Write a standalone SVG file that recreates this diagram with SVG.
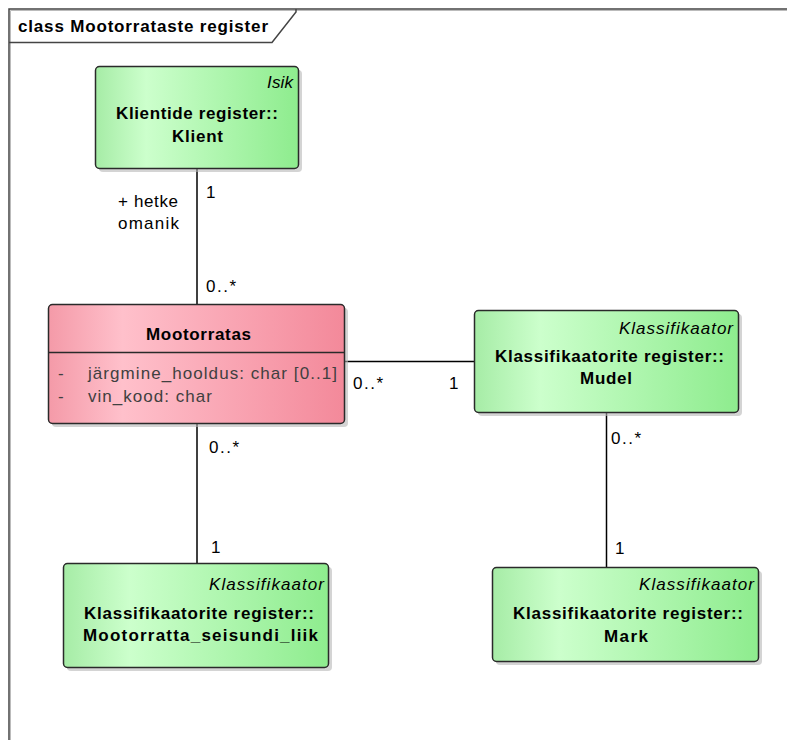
<svg xmlns="http://www.w3.org/2000/svg" width="787" height="740" viewBox="0 0 787 740">
<defs>
<linearGradient id="gGreen" x1="0" y1="0" x2="1" y2="0">
<stop offset="0" stop-color="#a6eca6"/>
<stop offset="0.25" stop-color="#ccffcc"/>
<stop offset="1" stop-color="#8eec8e"/>
</linearGradient>
<linearGradient id="gPink" x1="0" y1="0" x2="1" y2="0">
<stop offset="0" stop-color="#f49aa8"/>
<stop offset="0.25" stop-color="#ffc0cb"/>
<stop offset="1" stop-color="#f3899a"/>
</linearGradient>
<style>
.frame{fill:none;stroke:#444;stroke-width:1.5}
.fshadow{fill:none;stroke:#bbb;stroke-width:1}
.shadow{fill:#b8b8b8;opacity:0.6}
.box{stroke:#2a2a2a;stroke-width:1.5}
.green{fill:url(#gGreen)}
.pink{fill:url(#gPink)}
.conn{stroke:#000;stroke-width:1.5;fill:none}
text{font-family:"Liberation Sans",Arial,sans-serif;font-size:17px;fill:#000}
.b{font-weight:bold}
.i{font-style:italic}
.attr{fill:#404040}
</style>
</defs>
<rect width="787" height="740" fill="#fff"/>
<g id="frame">
<path class="fshadow" d="M10.5,800 V10.5 H800"/>
<path class="frame" d="M9,800 V9 H800"/>
<path class="frame" d="M9,42.5 H272 L296,12 V9" fill="#fff"/>
<text class="b" x="18" y="32" textLength="250" lengthAdjust="spacing">class Mootorrataste register</text>
</g>
<g id="connectors">
<line class="conn" x1="197" y1="168" x2="197" y2="304"/>
<line class="conn" x1="345" y1="361.5" x2="474" y2="361.5"/>
<line class="conn" x1="197" y1="423" x2="197" y2="563"/>
<line class="conn" x1="606.5" y1="412" x2="606.5" y2="567"/>
<text x="206" y="198">1</text>
<text x="118" y="207" textLength="60" lengthAdjust="spacing">+ hetke</text>
<text x="118" y="229" textLength="61" lengthAdjust="spacing">omanik</text>
<text x="206" y="292" textLength="30" lengthAdjust="spacing">0..*</text>
<text x="353" y="389" textLength="30" lengthAdjust="spacing">0..*</text>
<text x="449" y="389">1</text>
<text x="209" y="453" textLength="30" lengthAdjust="spacing">0..*</text>
<text x="211" y="553">1</text>
<text x="611" y="444" textLength="30" lengthAdjust="spacing">0..*</text>
<text x="615" y="554">1</text>
</g>
<g id="klient">
<rect class="shadow" x="99" y="70" width="203" height="102" rx="4"/>
<rect class="box green" x="95.5" y="66.5" width="203" height="102" rx="4"/>
<text class="i" x="267" y="88" textLength="26" lengthAdjust="spacing">Isik</text>
<text class="b" x="116" y="119" textLength="162" lengthAdjust="spacing">Klientide register::</text>
<text class="b" x="172" y="142" textLength="51" lengthAdjust="spacing">Klient</text>
</g>
<g id="mootorratas">
<rect class="shadow" x="52" y="308" width="296" height="119" rx="4"/>
<rect class="box pink" x="48.5" y="304.5" width="296" height="119" rx="4"/>
<line class="box" x1="48.5" y1="352.5" x2="344.5" y2="352.5"/>
<text class="b" x="146" y="340" textLength="105" lengthAdjust="spacing">Mootorratas</text>
<text class="attr" x="58" y="379">-</text>
<text class="attr" x="88" y="379" textLength="249" lengthAdjust="spacing">järgmine_hooldus: char [0..1]</text>
<text class="attr" x="58" y="402">-</text>
<text class="attr" x="88" y="402" textLength="124" lengthAdjust="spacing">vin_kood: char</text>
</g>
<g id="mudel">
<rect class="shadow" x="478" y="314" width="264" height="102" rx="4"/>
<rect class="box green" x="474.5" y="310.5" width="264" height="102" rx="4"/>
<text class="i" x="619" y="334" textLength="114" lengthAdjust="spacing">Klassifikaator</text>
<text class="b" x="495" y="362" textLength="229" lengthAdjust="spacing">Klassifikaatorite register::</text>
<text class="b" x="580" y="384" textLength="52" lengthAdjust="spacing">Mudel</text>
</g>
<g id="seisundi_liik">
<rect class="shadow" x="67" y="567" width="265" height="104" rx="4"/>
<rect class="box green" x="63.5" y="563.5" width="265" height="104" rx="4"/>
<text class="i" x="209" y="590" textLength="115" lengthAdjust="spacing">Klassifikaator</text>
<text class="b" x="84" y="619" textLength="230" lengthAdjust="spacing">Klassifikaatorite register::</text>
<text class="b" x="83" y="641" textLength="235" lengthAdjust="spacing">Mootorratta_seisundi_liik</text>
</g>
<g id="mark">
<rect class="shadow" x="496" y="571" width="266" height="94" rx="4"/>
<rect class="box green" x="492.5" y="567.5" width="266" height="94" rx="4"/>
<text class="i" x="639" y="590" textLength="115" lengthAdjust="spacing">Klassifikaator</text>
<text class="b" x="513" y="619" textLength="230" lengthAdjust="spacing">Klassifikaatorite register::</text>
<text class="b" x="604" y="642" textLength="44" lengthAdjust="spacing">Mark</text>
</g>
</svg>
